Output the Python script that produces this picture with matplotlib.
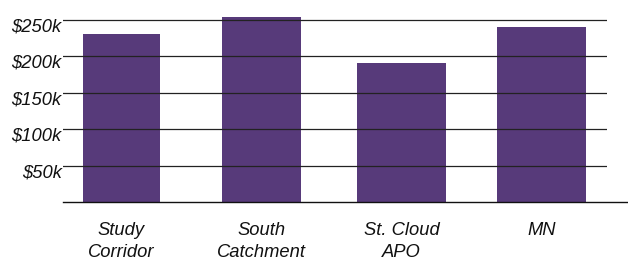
import matplotlib
matplotlib.use("Agg")
import matplotlib.pyplot as plt
import matplotlib.transforms as mtransforms

categories = ["Study\nCorridor", "South\nCatchment", "St. Cloud\nAPO", "MN"]
values_k = [231, 254, 191, 240]
tick_values = [50, 100, 150, 200, 250]
tick_labels = ["$50k", "$100k", "$150k", "$200k", "$250k"]

bar_widths = [0.55, 0.565, 0.635, 0.635]
bar_color = "#573a7a"

W, H = 628, 261
fig = plt.figure(figsize=(W / 100, H / 100), dpi=100)
left_px, right_px = 63, 607
base_px = 202
top_px = 5.4
ax = fig.add_axes([left_px / W, (H - base_px) / H, (right_px - left_px) / W, (base_px - top_px) / H])

x = list(range(len(categories)))
ax.bar(x, values_k, width=bar_widths, color=bar_color, zorder=1)

ax.set_xlim(-0.418, 3.468)
ax.set_ylim(0, 270)

for s in ax.spines.values():
    s.set_visible(False)

ax.set_yticks(tick_values)
ax.set_yticklabels(tick_labels)
ax.set_xticks(x)
ax.set_xticklabels(categories)
ax.tick_params(axis="both", length=0)
ax.tick_params(axis="y", pad=1)
ax.tick_params(axis="x", pad=14.5)

for lab in ax.get_yticklabels() + ax.get_xticklabels():
    lab.set_fontfamily("Liberation Sans")
    lab.set_fontstyle("italic")
    lab.set_fontsize(13.2)
    lab.set_color("#111111")
for lab in ax.get_xticklabels():
    lab.set_linespacing(1.38)

offset = mtransforms.ScaledTranslation(0, -5 / 100, fig.dpi_scale_trans)
for lab in ax.get_yticklabels():
    lab.set_transform(lab.get_transform() + offset)

ax.set_axisbelow(False)
ax.yaxis.grid(True, color="#222222", linewidth=0.9)
ax.xaxis.grid(False)

ax.plot([-0.418, 3.62], [0, 0], color="#111111", linewidth=1.0, clip_on=False, zorder=3)

fig.savefig("out.png", dpi=100)
